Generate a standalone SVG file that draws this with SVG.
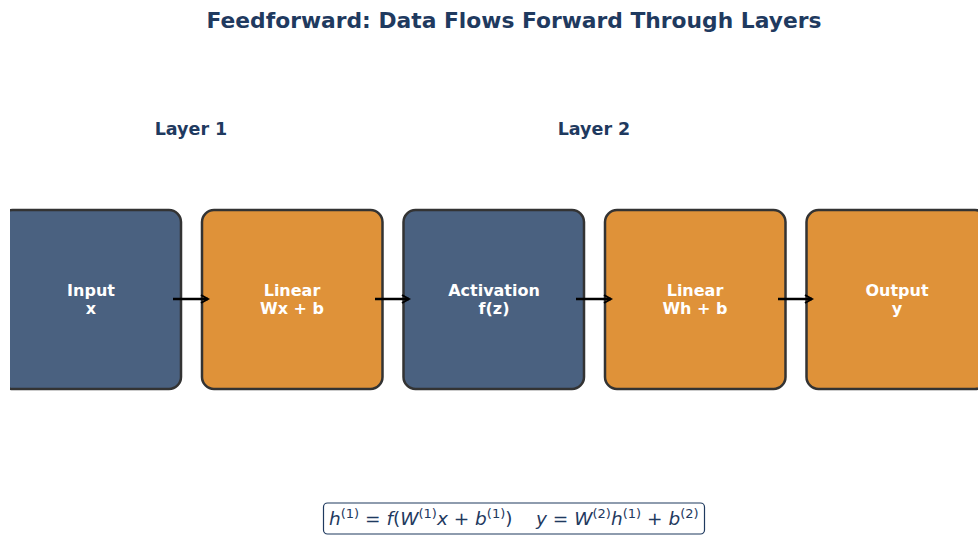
<svg xmlns="http://www.w3.org/2000/svg" width="978" height="536" viewBox="0 0 978 536">
<style>
.box{stroke:#333333;stroke-width:2.5}
.blue{fill:#4a6180}
.orange{fill:#df9239}
.lbl{font-family:"DejaVu Sans",sans-serif;font-weight:bold;font-size:16px;fill:#ffffff;text-anchor:middle}
.hdr{font-family:"DejaVu Sans",sans-serif;font-weight:bold;fill:#1f3a5f;text-anchor:middle}
.conn{stroke:#000000;stroke-width:2.5;fill:none}
.math{font-family:"DejaVu Sans",sans-serif;font-size:18.5px;fill:#1f3a5f}
.it{font-style:italic}
.sup{font-size:13px}
</style>
<defs>
<clipPath id="ax"><rect x="10" y="0" width="968" height="536"/></clipPath>
<marker id="ah" markerWidth="10" markerHeight="10" refX="8" refY="5" orient="auto" markerUnits="userSpaceOnUse">
<path d="M1,1 L8,5 L1,9" fill="none" stroke="#000" stroke-width="2"/>
</marker>
</defs>
<rect width="978" height="536" fill="#ffffff"/>
<text class="hdr" x="514" y="28" font-size="21.8">Feedforward: Data Flows Forward Through Layers</text>
<text class="hdr" x="191" y="135" font-size="17.5">Layer 1</text>
<text class="hdr" x="594" y="135" font-size="17.5">Layer 2</text>
<g clip-path="url(#ax)">
<g id="input">
<rect class="box blue" x="0.5" y="210" width="180.5" height="179" rx="12"/>
<text class="lbl" x="91" y="296">Input</text>
<text class="lbl" x="91" y="314">x</text>
</g>
<g id="linear1">
<rect class="box orange" x="202" y="210" width="180.5" height="179" rx="12"/>
<text class="lbl" x="292" y="296">Linear</text>
<text class="lbl" x="292" y="314">Wx + b</text>
</g>
<g id="activation">
<rect class="box blue" x="403.5" y="210" width="180.5" height="179" rx="12"/>
<text class="lbl" x="494" y="296">Activation</text>
<text class="lbl" x="494" y="314">f(z)</text>
</g>
<g id="linear2">
<rect class="box orange" x="605" y="210" width="180.5" height="179" rx="12"/>
<text class="lbl" x="695" y="296">Linear</text>
<text class="lbl" x="695" y="314">Wh + b</text>
</g>
<g id="output">
<rect class="box orange" x="806.5" y="210" width="180.5" height="179" rx="12"/>
<text class="lbl" x="897" y="296">Output</text>
<text class="lbl" x="897" y="314">y</text>
</g>
</g>
<g id="connectors">
<line class="conn" x1="173" y1="299" x2="208" y2="299" marker-end="url(#ah)"/>
<line class="conn" x1="375" y1="299" x2="409" y2="299" marker-end="url(#ah)"/>
<line class="conn" x1="576" y1="299" x2="611" y2="299" marker-end="url(#ah)"/>
<line class="conn" x1="778" y1="299" x2="812" y2="299" marker-end="url(#ah)"/>
</g>
<g id="formula">
<rect x="323.5" y="503" width="381" height="31" rx="4" fill="#ffffff" stroke="#1f3a5f" stroke-width="1.2"/>
<text class="math" x="329" y="525"><tspan class="it">h</tspan><tspan class="sup" dy="-7">(1)</tspan><tspan dy="7"> = </tspan><tspan class="it">f</tspan>(<tspan class="it">W</tspan><tspan class="sup" dy="-7">(1)</tspan><tspan class="it" dy="7">x</tspan> + <tspan class="it">b</tspan><tspan class="sup" dy="-7">(1)</tspan><tspan dy="7">)</tspan><tspan xml:space="preserve">    </tspan><tspan class="it">y</tspan> = <tspan class="it">W</tspan><tspan class="sup" dy="-7">(2)</tspan><tspan class="it" dy="7">h</tspan><tspan class="sup" dy="-7">(1)</tspan><tspan dy="7"> + </tspan><tspan class="it">b</tspan><tspan class="sup" dy="-7">(2)</tspan></text>
</g>
</svg>
